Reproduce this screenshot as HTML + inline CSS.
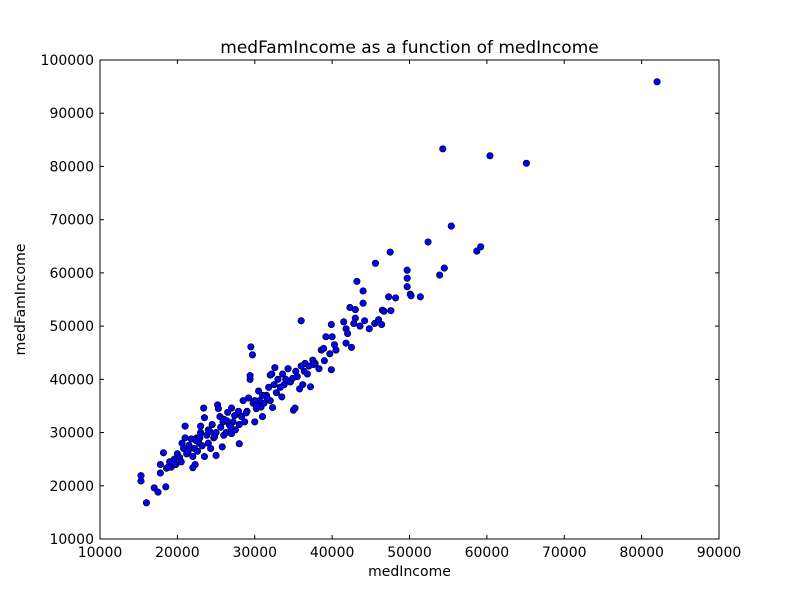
<!DOCTYPE html>
<html><head><meta charset="utf-8"><style>
body{margin:0;background:#fff;}
svg text{font-family:"DejaVu Sans","Liberation Sans",sans-serif;fill:#000;}
</style></head><body>
<svg id="chart" width="800" height="600" xmlns="http://www.w3.org/2000/svg">
<rect width="800" height="600" fill="#fff"/>
<text x="409.5" y="53" font-size="17" text-anchor="middle">medFamIncome as a function of medIncome</text>
<text x="409.5" y="576" font-size="14" text-anchor="middle">medIncome</text>
<text x="0" y="0" font-size="14" text-anchor="middle" transform="translate(25,299.5) rotate(-90)">medFamIncome</text>
<g id="ticks"></g>
<g id="points"></g>
<rect x="100" y="60" width="619" height="479" fill="none" stroke="#000" stroke-width="1"/>
</svg>
<script>
const xTicks=[10000,20000,30000,40000,50000,60000,70000,80000,90000];
const yTicks=[10000,20000,30000,40000,50000,60000,70000,80000,90000,100000];
const medIncome=[15.3,15.3,16.0,17.0,17.5,17.8,17.8,18.2,18.5,18.6,19.0,19.2,19.6,19.8,20.0,20.3,20.5,20.8,21.0,21.0,21.2,21.5,21.8,22.0,22.0,22.2,22.3,22.5,22.6,22.8,23.0,23.0,23.2,23.4,23.5,23.5,23.8,24.0,24.0,24.3,24.5,24.7,25.0,25.0,25.2,25.3,25.5,25.6,25.8,26.0,26.0,26.3,26.5,26.7,27.0,27.0,27.2,27.5,27.8,28.0,28.0,28.3,28.5,28.7,29.0,29.2,29.4,29.4,29.5,29.7,29.8,30.0,30.2,30.5,30.6,30.8,31.0,31.2,31.5,31.8,32.0,32.0,32.2,32.3,32.5,32.6,32.8,33.0,33.3,33.5,33.6,34.0,34.3,34.6,35.0,35.2,35.3,35.5,35.8,36.0,36.0,36.2,36.5,36.8,37.0,37.2,37.5,37.8,38.3,38.6,38.9,39.2,39.0,39.7,39.9,40.0,39.9,40.3,40.5,41.5,41.8,41.8,42.0,42.3,42.5,42.8,43.0,43.0,43.2,43.6,44.0,44.0,44.2,44.8,45.5,45.6,46.0,46.4,46.5,46.7,47.3,47.5,47.6,48.2,82.0,54.3,60.4,65.1,55.4,52.4,59.2,58.7,49.7,54.5,53.9,49.7,49.7,50.1,50.2,51.4,20.6,21.4,22.9,24.2,25.9,26.9,27.4,28.9,30.3,31.6,33.8,34.9,36.4,37.6,30.0,31.0,24.8,26.4,27.9,22.4,19.6,18.8];
const medFamIncome=[21.9,20.9,16.8,19.6,18.8,22.4,24.0,26.2,19.8,23.3,24.5,23.5,25.0,24.0,26.0,25.3,24.5,27.0,29.0,31.2,26.0,27.6,28.8,25.5,23.4,27.0,24.0,29.0,26.5,28.0,30.0,31.2,27.5,34.6,32.8,25.5,29.5,28.0,30.5,27.0,31.5,29.0,25.7,30.0,35.2,34.5,33.0,31.0,27.3,29.5,32.5,30.0,33.8,31.5,29.8,34.6,32.0,30.5,33.5,27.9,31.5,33.0,36.0,32.0,34.0,36.5,40.0,40.7,46.1,44.6,35.5,32.0,34.5,37.8,36.0,34.8,33.0,35.5,37.0,38.5,40.8,36.0,41.0,34.7,39.0,42.2,37.5,40.0,38.5,36.7,41.0,40.0,42.0,39.5,34.2,34.6,41.5,40.5,38.2,51.0,42.5,39.0,43.0,41.0,42.5,38.6,43.6,43.0,42.0,45.5,45.8,48.0,43.5,44.8,41.8,48.0,50.3,46.5,45.5,50.8,49.5,46.8,48.6,53.5,46.0,50.5,53.1,51.5,58.4,50.0,54.3,56.6,51.0,49.5,50.5,61.8,51.2,50.3,53.0,52.8,55.5,63.9,52.9,55.3,95.9,83.3,82.0,80.6,68.8,65.8,64.9,64.1,60.5,60.9,59.6,59.0,57.4,56.0,55.7,55.5,28.0,26.5,29.0,30.2,32.0,31.0,33.2,33.7,35.0,36.5,39.0,40.2,41.5,42.8,36.0,37.0,29.2,32.2,34.0,28.5,24.2,23.5];
const X=v=>100+(v-10000)*619/80000;
const Y=v=>539-(v-10000)*479/90000;
const ns="http://www.w3.org/2000/svg";
const tg=document.getElementById('ticks');
function mk(tag,a,parent){const e=document.createElementNS(ns,tag);for(const k in a)e.setAttribute(k,a[k]);parent.appendChild(e);return e;}
xTicks.forEach(t=>{const x=X(t);
 const a=mk('line',{x1:x,x2:x,y1:539,y2:535,stroke:'#000'},tg);
 
 
 const b=mk('line',{x1:x,x2:x,y1:60,y2:64,stroke:'#000'},tg);
 
 
 const l=mk('text',{x:x,y:557,'font-size':14,'text-anchor':'middle'},tg);l.textContent=t;
 
 
});
yTicks.forEach(t=>{const y=Y(t);
 const a=mk('line',{x1:100,x2:104,y1:y,y2:y,stroke:'#000'},tg);
 
 
 const b=mk('line',{x1:719,x2:715,y1:y,y2:y,stroke:'#000'},tg);
 
 
 const l=mk('text',{x:94,y:y+5,'font-size':14,'text-anchor':'end'},tg);l.textContent=t;
 
 
});
const pg=document.getElementById('points');
medIncome.forEach((v,i)=>{
 const c=mk('circle',{cx:X(v*1000),cy:Y(medFamIncome[i]*1000),r:3.2,fill:'#0000ff',stroke:'#000','stroke-width':0.7},pg);
 
 
});
</script>
</body></html>
